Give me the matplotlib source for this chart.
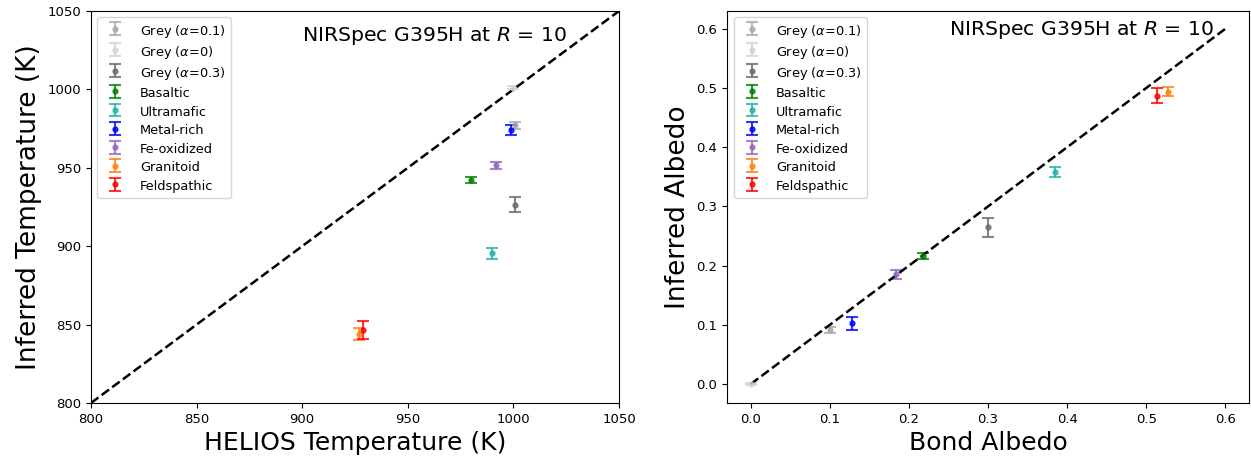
import matplotlib
matplotlib.use("Agg")
import matplotlib.pyplot as plt

labels = ["Grey ($\\alpha$=0.1)", "Grey ($\\alpha$=0)", "Grey ($\\alpha$=0.3)", "Basaltic",
          "Ultramafic", "Metal-rich", "Fe-oxidized", "Granitoid", "Feldspathic"]
colors = ["darkgrey", "lightgrey", "dimgrey", "green", "lightseagreen", "blue",
          "tab:purple", "tab:orange", "red"]

# temperature (K)
helios_temp = [1001, 1000, 1001, 980, 990, 999, 992, 927, 929]
inferred_temp = [977, 1001, 926.5, 942, 895.5, 974, 951.5, 844, 846.5]
inferred_temp_err = [2, 1, 5, 2, 3.5, 3, 2.5, 3.7, 5.8]

# albedo
bond_albedo = [0.1, 0.0, 0.3, 0.218, 0.385, 0.128, 0.184, 0.528, 0.514]
inferred_albedo = [0.091, 0.0, 0.265, 0.216, 0.358, 0.103, 0.185, 0.494, 0.487]
inferred_albedo_err = [0.005, 0.002, 0.016, 0.005, 0.009, 0.011, 0.007, 0.008, 0.013]

fig = plt.figure(figsize=(12.51, 4.59), dpi=100)
ax1 = fig.add_axes([0.0727, 0.122, 0.4221, 0.854])
ax2 = fig.add_axes([0.5812, 0.122, 0.4172, 0.854])

ekw = dict(fmt="o", markersize=3.5, capsize=4.3, elinewidth=1.5, capthick=1.5, alpha=0.8)

for i in range(len(labels)):
    ax1.errorbar(helios_temp[i], inferred_temp[i], yerr=inferred_temp_err[i],
                 color=colors[i], label=labels[i], **ekw)
    ax2.errorbar(bond_albedo[i], inferred_albedo[i], yerr=inferred_albedo_err[i],
                 color=colors[i], label=labels[i], **ekw)

title = "NIRSpec G395H at $R$ = 10"
leg_kw = dict(loc="upper left", fontsize=9.3, labelspacing=0.31, handleheight=1.35,
              handletextpad=0.9)

ax1.plot([800, 1050], [800, 1050], "k--", lw=1.8)
ax1.set_xlim(800, 1050)
ax1.set_ylim(800, 1050)
ax1.set_xlabel("HELIOS Temperature (K)", fontsize=18)
ax1.set_ylabel("Inferred Temperature (K)", fontsize=19)
ax1.text(900, 1034, title, fontsize=14.7, ha="left", va="center")
ax1.legend(**leg_kw)

ax2.plot([0, 0.6], [0, 0.6], "k--", lw=1.8)
ax2.set_xlabel("Bond Albedo", fontsize=18)
ax2.set_ylabel("Inferred Albedo", fontsize=19)
ax2.text(0.25, 0.598, title, fontsize=14.7, ha="left", va="center")
ax2.legend(**leg_kw)

for ax in (ax1, ax2):
    ax.tick_params(labelsize=9.5)

fig.savefig("out.png", dpi=100)
